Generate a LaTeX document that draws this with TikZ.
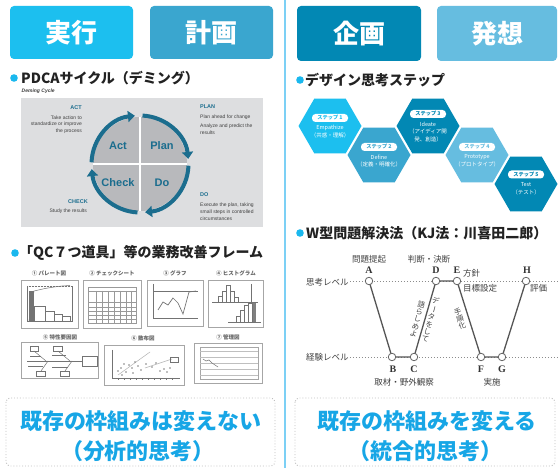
\documentclass[tikz,border=0pt]{standalone}
\usepackage{fontspec}
\setmainfont{Noto Sans CJK JP}
\newfontfamily\lat{Liberation Sans}
\newfontfamily\ser{Liberation Serif}
\usetikzlibrary{arrows.meta,shapes.geometric}
\definecolor{cyanA}{HTML}{1CBFEF}
\definecolor{steelB}{HTML}{3AA6CF}
\definecolor{tealC}{HTML}{0288B4}
\definecolor{skyD}{HTML}{66BDE0}
\definecolor{divider}{HTML}{7CD0F5}
\definecolor{bulletc}{HTML}{1AB8EE}
\definecolor{pdcagray}{HTML}{DDDEE0}
\definecolor{quadc}{HTML}{B8B9BC}
\definecolor{ringc}{HTML}{1B6D8E}
\definecolor{bigtxt}{HTML}{17A6E6}
\definecolor{wline}{HTML}{555555}
\definecolor{headtxt}{HTML}{222222}
\newcommand{\vbar}{\rotatebox[origin=c]{-90}{ー}}
\tikzset{
  hdr/.style={rounded corners=4pt, text=white, inner sep=0pt,
    font=\bfseries\fontsize{26}{26}\selectfont},
  headline/.style={anchor=west, inner sep=0pt, text=headtxt,
    font=\bfseries\fontsize{14}{14}\selectfont},
  pdcatitle/.style={inner sep=0pt, text=ringc, font=\lat\bfseries\fontsize{5.5}{5.5}\selectfont},
  pdcabody/.style={inner sep=0pt, text=black!75, font=\lat\fontsize{5}{5}\selectfont},
  quadlbl/.style={inner sep=0pt, text=ringc, font=\lat\bfseries\fontsize{11}{11}\selectfont},
  ringarrow/.style={draw=ringc, line width=4pt, -{Triangle[length=7pt,width=11pt]}},
  qctitle/.style={inner sep=0pt, text=black!60, font=\bfseries\fontsize{5.5}{5.5}\selectfont},
  qcpanel/.style={fill=white, draw=black!35, line width=0.8pt},
  qcline/.style={draw=black!55, line width=0.5pt},
  hexnode/.style={regular polygon, regular polygon sides=6, minimum size=63pt, inner sep=0pt, draw=none},
  pill/.style={fill=white, rounded corners=3.5pt, minimum width=36pt, minimum height=8pt, inner sep=0pt,
    font=\bfseries\fontsize{5.2}{5.2}\selectfont},
  hextxt/.style={inner sep=0pt, text=white, font=\fontsize{5.5}{5.5}\selectfont},
  wlbl/.style={inner sep=0pt, text=black!75, font=\fontsize{8.5}{8.5}\selectfont},
  vtxt/.style={inner sep=0pt, text=black!75, align=center, font=\fontsize{7.3}{7.6}\selectfont},
  wletter/.style={inner sep=0pt, text=black!80, font=\ser\bfseries\fontsize{10}{10}\selectfont},
  wpt/.style={circle, fill=white, draw=black!60, line width=0.8pt, minimum size=7.5pt, inner sep=0pt},
  wedge/.style={draw=wline, line width=1.3pt},
  level/.style={draw=black!45, line width=0.8pt, dash pattern=on 1.5pt off 1.5pt},
  bottombox/.style={draw=black!25, dotted, line width=0.9pt, rounded corners=4pt},
  bigtext/.style={inner sep=0pt, text=bigtxt, font=\bfseries\fontsize{22}{22}\selectfont},
}
\begin{document}
\begin{tikzpicture}[x=1pt,y=-1pt]
\useasboundingbox (0,0) rectangle (558,468);
\fill[white] (0,0) rectangle (558,468);

% divider
\draw[divider, line width=2pt] (285,0) -- (285,468);

% header boxes
\node[hdr, fill=cyanA, minimum width=123pt, minimum height=53pt] (hjikko) at (71.5,32.5) {実行};
\node[hdr, fill=steelB, minimum width=123pt, minimum height=53pt] (hkeikaku) at (211.5,32.5) {計画};
\node[hdr, fill=tealC, minimum width=124pt, minimum height=55pt] (hkikaku) at (359,33.5) {企画};
\node[hdr, fill=skyD, minimum width=120pt, minimum height=55pt] (hhasso) at (497,33.5) {発想};

% headings
\fill[bulletc] (14,78) circle (3.8);
\node[headline] (tpdca) at (21,78) {PDCAサイクル（デミング）};
\fill[bulletc] (15,253) circle (3.8);
\node[headline] (tqc) at (19,253) {「QC７つ道具」等の業務改善フレーム};
\fill[bulletc] (300,80) circle (3.8);
\node[headline] (tdesign) at (305,80) {デザイン思考ステップ};
\fill[bulletc] (300,233) circle (3.8);
\node[headline] (tw) at (306,233) {W型問題解決法（KJ法：川喜田二郎）};

% PDCA panel
\node[anchor=west, inner sep=0pt, text=black!75, font=\lat\bfseries\itshape\fontsize{5}{5}\selectfont] (tdeming) at (21.5,91.5) {Deming Cycle};
\fill[pdcagray] (21,98) rectangle (263,227);
\begin{scope}[shift={(140,164)}, yscale=-1]
  \fill[quadc] (0,0) circle (47);
  \draw[white, line width=2.2pt] (-47,0) -- (47,0) (0,-47) -- (0,47);
  \draw[ringarrow] (178:48.5) arc[start angle=178, end angle=96, radius=48.5];
  \draw[ringarrow] (87:48.5) arc[start angle=87, end angle=6, radius=48.5];
  \draw[ringarrow] (-2:48.5) arc[start angle=-2, end angle=-84, radius=48.5];
  \draw[ringarrow] (-93:48.5) arc[start angle=-93, end angle=-174, radius=48.5];
\end{scope}
\node[quadlbl] (qact) at (118,146) {Act};
\node[quadlbl] (qplan) at (162,146) {Plan};
\node[quadlbl] (qcheck) at (118,183) {Check};
\node[quadlbl] (qdo) at (162,183) {Do};

\node[pdcatitle, anchor=east] (lact) at (82,108) {ACT};
\node[pdcabody, anchor=east] (lact1) at (82,118) {Take action to};
\node[pdcabody, anchor=east] (lact2) at (82,124.5) {standardize or improve};
\node[pdcabody, anchor=east] (lact3) at (82,131) {the process};
\node[pdcatitle, anchor=west] (lplan) at (200,107) {PLAN};
\node[pdcabody, anchor=west] (lplan1) at (200,117) {Plan ahead for change};
\node[pdcabody, anchor=west] (lplan2) at (200,126) {Analyze and predict the};
\node[pdcabody, anchor=west] (lplan3) at (200,132.5) {results};
\node[pdcatitle, anchor=east] (lcheck) at (88,202) {CHECK};
\node[pdcabody, anchor=east] (lcheck1) at (87,211.5) {Study the results};
\node[pdcatitle, anchor=west] (ldo) at (200,195) {DO};
\node[pdcabody, anchor=west] (ldo1) at (200,205) {Execute the plan, taking};
\node[pdcabody, anchor=west] (ldo2) at (200,211.8) {small steps in controlled};
\node[pdcabody, anchor=west] (ldo3) at (200,218.6) {circumstances};

% QC 7 tools
\node[qctitle] (qc1) at (49,273) {① パレート図};
\node[qctitle] (qc2) at (112,273) {② チェックシート};
\node[qctitle] (qc3) at (175,273) {③ グラフ};
\node[qctitle] (qc4) at (236,273) {④ ヒストグラム};
\node[qctitle] (qc5) at (60,337) {⑤ 特性要因図};
\node[qctitle] (qc6) at (143,338) {⑥ 散布図};
\node[qctitle] (qc7) at (228,337) {⑦ 管理図};
% panel 1 pareto
\draw[qcpanel] (21,280) rectangle (78,328);
\draw[qcline] (27,286) -- (27,321) -- (72,321) -- (72,286);
\fill[black!55] (29,291) rectangle (34,321);
\draw[qcline] (34,306) rectangle (45,321) (45,311) rectangle (54,321) (54,314) rectangle (62,321) (62,316) rectangle (70,321);
\draw[qcline] (29,321) -- (34,291) -- (45,288.5) -- (54,287) -- (62,286) -- (70,285.5);
\draw[qcline, densely dotted] (27,286) -- (72,286);
% panel 2 check sheet
\draw[qcpanel] (83,280) rectangle (141,328);
\draw[qcline, draw=black!40] (88,287) rectangle (136,323);
\foreach \xx in {96,102,108,114,120,126,131} \draw[qcline, draw=black!40] (\xx,291) -- (\xx,323);
\foreach \yy in {291,302,307,311,315,319} \draw[qcline, draw=black!40] (88,\yy) -- (136,\yy);
% panel 3 graph
\draw[qcpanel] (147,280) rectangle (203,326);
\draw[qcline] (153,284) -- (153,318) -- (198,318);
\draw[qcline] (153,291) -- (198,291);
\draw[qcline, line width=0.7pt] (158,310) -- (163,302) -- (168,305) -- (173,298) -- (178,303) -- (183,314) -- (189,292) -- (196,291);
% panel 4 histogram
\draw[qcpanel] (208,280) rectangle (263,327);
\draw[qcline] (212,302) -- (258,302);
\draw[qcline] (218,296) rectangle (222,302) (222,291) rectangle (226,302) (226,285) rectangle (230,302) (230,291) rectangle (234,302) (234,297) rectangle (238,302);
\draw[qcline] (251,284) -- (251,304);
\draw[qcline] (228,322) -- (261,322);
\draw[qcline] (236,316) rectangle (240,322) (240,310) rectangle (244,322) (244,305) rectangle (248,322);
\fill[black!50] (252,303) rectangle (256,322);
\draw[qcline] (248,303) rectangle (252,322);
% panel 5 fishbone
\draw[qcpanel] (21,342) rectangle (98,378);
\draw[qcline, line width=0.9pt] (27,361) -- (82,361);
\draw[qcline] (82,356) rectangle (97,366);
\draw[qcline] (30,346) rectangle (38,351) (53,346) rectangle (62,351) (36,371) rectangle (45,376) (60,371) rectangle (69,376);
\draw[qcline] (34,351) -- (46,361) (58,351) -- (70,361) (41,371) -- (48,361) (65,371) -- (72,361);
\draw[qcline] (30,356) -- (41,356) (52,355) -- (66,355) (28,366) -- (43,366) (52,367) -- (68,367);
% panel 6 scatter
\draw[qcpanel] (104,345) rectangle (184,385);
\draw[qcline] (112,350) -- (112,378) -- (180,378);
\foreach \xx in {118,124,130,136,142,148,154,160,166,172} \draw[qcline] (\xx,378) -- (\xx,380);
\draw[qcline, draw=black!30] (118,375) -- (150,352);
\draw[qcline, draw=black!30] (145,368) -- (172,359);
\foreach \px/\py in {118/371,121/368,124/364,126/372,129/365,132/368,135/362,138/366,141/370,146/364,152/367,156/363,160/371,164/369,167/372,170/368,122/375,133/373}
  \fill[black!50] (\px,\py) circle (0.9);
\draw[qcline] (170,357) rectangle (178,362);
% panel 7 control chart
\draw[qcpanel] (194,343) rectangle (262,383);
\draw[qcline, draw=black!35] (200,347) rectangle (258,379);
\foreach \yy in {351,357,363,369,375} \draw[qcline, draw=black!25] (200,\yy) -- (258,\yy);
\draw[qcline] (203,359) -- (206,361) -- (209,360) -- (212,363) -- (215,365) -- (218,367);

% bottom boxes
\draw[bottombox] (6,398) rectangle (275,466);
\node[bigtext] (bl1) at (141,421) {既存の枠組みは変えない};
\node[bigtext] (bl2) at (138,451) {（分析的思考）};
\draw[bottombox] (295,398) rectangle (555,466);
\node[bigtext] (br1) at (427,421) {既存の枠組みを変える};
\node[bigtext] (br2) at (425,451) {（統合的思考）};

% design thinking hexagons
\node[hexnode, fill=cyanA] (hex1) at (330,126) {};
\node[hexnode, fill=steelB] (hex2) at (379,155) {};
\node[hexnode, fill=tealC] (hex3) at (428,126) {};
\node[hexnode, fill=skyD] (hex4) at (477,155) {};
\node[hexnode, fill=tealC] (hex5) at (526,184) {};
\node[pill, text=cyanA] (p1) at (330,118) {ステップ 1};
\node[hextxt] (e1a) at (330,128.3) {Empathize};
\node[hextxt] (e1b) at (330,135.8) {（共感・理解）};
\node[pill, text=steelB] (p2) at (379,147) {ステップ 2};
\node[hextxt] (e2a) at (379,157) {Define};
\node[hextxt] (e2b) at (379,164.5) {（定義・明確化）};
\node[pill, text=tealC] (p3) at (428,114) {ステップ 3};
\node[hextxt] (e3a) at (428,124) {Ideate};
\node[hextxt] (e3b) at (428,131.6) {（アイディア開};
\node[hextxt] (e3c) at (428,139.2) {発、創造）};
\node[pill, text=skyD] (p4) at (477,147) {ステップ 4};
\node[hextxt] (e4a) at (477,157) {Prototype};
\node[hextxt] (e4b) at (477,164.5) {（プロトタイプ）};
\node[pill, text=tealC] (p5) at (526,174.5) {ステップ 5};
\node[hextxt] (e5a) at (526,184.3) {Test};
\node[hextxt] (e5b) at (526,192.3) {（テスト）};

% W diagram
\node[wlbl, anchor=west] (lvthink) at (306,282) {思考レベル};
\node[wlbl, anchor=west] (lvexp) at (306,357) {経験レベル};
\coordinate (ts) at (lvthink.east);
\coordinate (te) at (558,281);
\coordinate (es) at (lvexp.east);
\coordinate (ee) at (558,357);
\draw[level] ([xshift=1pt]ts |- te) -- (te);
\draw[level] ([xshift=1pt]es |- ee) -- (ee);
\coordinate (cA) at (369,281);
\coordinate (cB) at (392,357);
\coordinate (cC) at (414,357);
\coordinate (cD) at (436,281);
\coordinate (cE) at (457,281);
\coordinate (cF) at (481,357);
\coordinate (cG) at (502,357);
\coordinate (cH) at (526,281);
\draw[wedge] (cA) -- (cB) -- (cC) -- (cD) -- (cE) -- (cF) -- (cG) -- (cH);
\foreach \p in {A,B,C,D,E,F,G,H} \node[wpt] (pt\p) at (c\p) {};
\node[wletter] (lA) at (369,270.5) {A};
\node[wletter] (lD) at (436,270.5) {D};
\node[wletter] (lE) at (457,270.5) {E};
\node[wletter] (lH) at (527,270.5) {H};
\node[wletter] (lB) at (393,369) {B};
\node[wletter] (lC) at (414,369) {C};
\node[wletter] (lF) at (481,369) {F};
\node[wletter] (lG) at (502,369) {G};
\node[wlbl] (tmon) at (369,259) {問題提起};
\node[wlbl] (thandan) at (429,259) {判断・決断};
\node[wlbl, anchor=west] (thoshin) at (463,273.5) {方針};
\node[wlbl, anchor=west] (tmoku) at (463,288.5) {目標設定};
\node[wlbl, anchor=west] (thyoka) at (530,288.5) {評価};
\node[wlbl] (tshuzai) at (404,382.5) {取材・野外観察};
\node[wlbl] (tjisshi) at (492,382.5) {実施};
\node[vtxt, rotate=-15] (tdata) at (430.5,320) {デ\\\vbar\\タ\\を\\し\\て};
\node[vtxt, rotate=-15] (tkatara) at (417.5,319) {語\\ら\\し\\め\\よ};
\node[vtxt, rotate=18] (ttejun) at (460,319) {手\\順\\化};
\end{tikzpicture}
\end{document}
